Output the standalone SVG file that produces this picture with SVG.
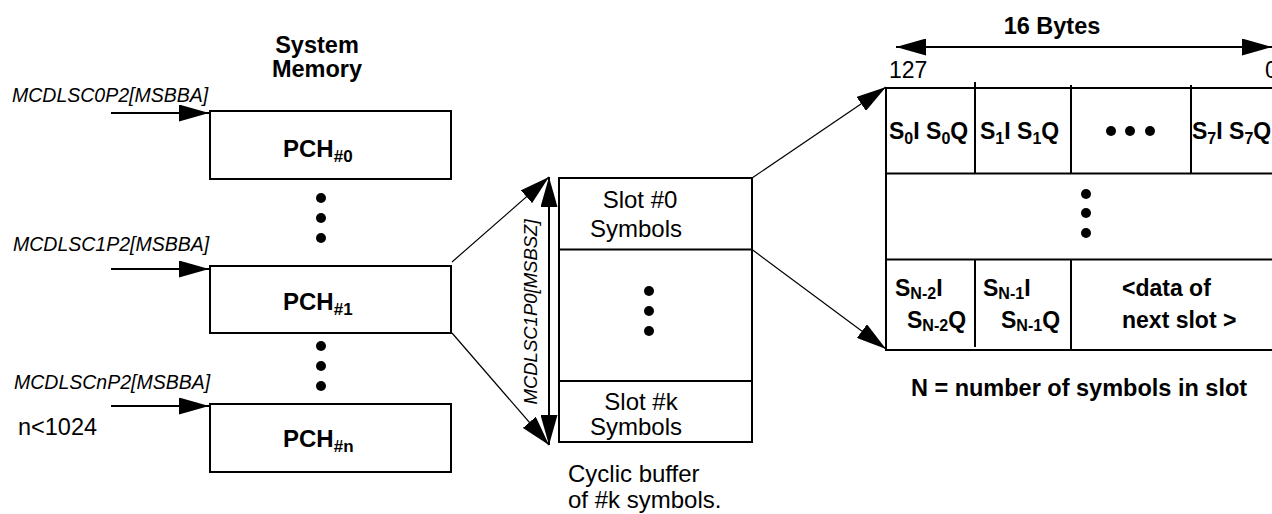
<svg xmlns="http://www.w3.org/2000/svg" width="1272" height="514" viewBox="0 0 1272 514">
<style>
.box{fill:#fff;stroke:#000;stroke-width:2}
.ln{stroke:#000;stroke-width:2;fill:none}
.thin{stroke:#000;stroke-width:1.2;fill:none}
.t{font-family:"Liberation Sans",Arial,Helvetica,sans-serif;fill:#000}
.b{font-weight:bold}
.i{font-style:italic}
.dot{fill:#000}
</style>
<defs>
<marker id="ah" viewBox="0 0 30 17" refX="30" refY="8.5" markerWidth="30" markerHeight="17" markerUnits="userSpaceOnUse" orient="auto-start-reverse">
<path d="M0,0 L30,8.5 L0,17 z" fill="#000"/>
</marker>
</defs>
<rect width="1272" height="514" fill="#fff"/>

<g id="memory-title">
<text class="t b" x="317" y="53" font-size="23.5" text-anchor="middle">System</text>
<text class="t b" x="317" y="77" font-size="23.5" text-anchor="middle">Memory</text>
</g>

<g id="address-labels">
<text class="t i" x="12" y="102" font-size="19.5">MCDLSC0P2[MSBBA]</text>
<text class="t i" x="13" y="251" font-size="19.5">MCDLSC1P2[MSBBA]</text>
<text class="t i" x="14" y="389" font-size="19.5">MCDLSCnP2[MSBBA]</text>
<text class="t" x="18" y="435" font-size="23.5">n&lt;1024</text>
</g>

<g id="pch0">
<rect class="box" x="210" y="111" width="241" height="68"/>
<text class="t b" x="283" y="157" font-size="24">PCH<tspan font-size="17" dy="5">#0</tspan></text>
</g>
<g id="pch1">
<rect class="box" x="210" y="266" width="241" height="67"/>
<text class="t b" x="283" y="310" font-size="24">PCH<tspan font-size="17" dy="5">#1</tspan></text>
</g>
<g id="pchn">
<rect class="box" x="210" y="404" width="241" height="68"/>
<text class="t b" x="283" y="447" font-size="24">PCH<tspan font-size="17" dy="5">#n</tspan></text>
</g>

<g id="memory-dots">
<circle class="dot" cx="321" cy="198" r="5"/>
<circle class="dot" cx="321" cy="218" r="5"/>
<circle class="dot" cx="321" cy="238" r="5"/>
<circle class="dot" cx="321" cy="346" r="5"/>
<circle class="dot" cx="321" cy="366" r="5"/>
<circle class="dot" cx="321" cy="386" r="5"/>
</g>

<g id="cyclic-buffer">
<rect class="box" x="559" y="178" width="193" height="264"/>
<line class="ln" x1="559" y1="249.5" x2="752" y2="249.5"/>
<line class="ln" x1="559" y1="381" x2="752" y2="381"/>
<text class="t" x="640" y="208" font-size="24" text-anchor="middle">Slot #0</text>
<text class="t" x="636" y="237" font-size="24" text-anchor="middle">Symbols</text>
<circle class="dot" cx="649" cy="291" r="5"/>
<circle class="dot" cx="649" cy="311" r="5"/>
<circle class="dot" cx="649" cy="331" r="5"/>
<text class="t" x="641" y="410" font-size="24" text-anchor="middle">Slot #k</text>
<text class="t" x="636" y="435" font-size="24" text-anchor="middle">Symbols</text>
<text class="t" x="568" y="482" font-size="24">Cyclic buffer</text>
<text class="t" x="568" y="508" font-size="24">of #k symbols.</text>
<text class="t i" font-size="18.5" text-anchor="middle" transform="translate(537,312) rotate(-90)">MCDLSC1P0[MSBSZ]</text>
</g>

<g id="slot-table">
<rect class="box" x="886" y="88" width="420" height="262"/>
<line class="ln" x1="886" y1="173.5" x2="1306" y2="173.5"/>
<line class="ln" x1="886" y1="259.5" x2="1306" y2="259.5"/>
<line class="ln" x1="975" y1="82" x2="975" y2="173.5"/>
<line class="ln" x1="1071" y1="85" x2="1071" y2="173.5"/>
<line class="ln" x1="1191" y1="85" x2="1191" y2="173.5"/>
<line class="ln" x1="975" y1="259.5" x2="975" y2="347"/>
<line class="ln" x1="1071" y1="259.5" x2="1071" y2="350"/>
<text class="t" x="889" y="78" font-size="23">127</text>
<text class="t" x="1265" y="78" font-size="23">0</text>
<text class="t b" x="889" y="139" font-size="23">S<tspan font-size="16" dy="5">0</tspan><tspan dy="-5">I S</tspan><tspan font-size="16" dy="5">0</tspan><tspan dy="-5">Q</tspan></text>
<text class="t b" x="980" y="139" font-size="23">S<tspan font-size="16" dy="5">1</tspan><tspan dy="-5">I S</tspan><tspan font-size="16" dy="5">1</tspan><tspan dy="-5">Q</tspan></text>
<text class="t b" x="1192" y="139" font-size="23">S<tspan font-size="16" dy="5">7</tspan><tspan dy="-5">I S</tspan><tspan font-size="16" dy="5">7</tspan><tspan dy="-5">Q</tspan></text>
<circle class="dot" cx="1111" cy="131" r="5"/>
<circle class="dot" cx="1130" cy="131" r="5"/>
<circle class="dot" cx="1150" cy="131" r="5"/>
<circle class="dot" cx="1086" cy="194" r="5"/>
<circle class="dot" cx="1086" cy="213" r="5"/>
<circle class="dot" cx="1086" cy="233" r="5"/>
<text class="t b" x="895" y="296" font-size="23">S<tspan font-size="16" dy="3">N-2</tspan><tspan dy="-3">I</tspan></text>
<text class="t b" x="907" y="328" font-size="23">S<tspan font-size="16" dy="3">N-2</tspan><tspan dy="-3">Q</tspan></text>
<text class="t b" x="983" y="296" font-size="23">S<tspan font-size="16" dy="3">N-1</tspan><tspan dy="-3">I</tspan></text>
<text class="t b" x="1001" y="328" font-size="23">S<tspan font-size="16" dy="3">N-1</tspan><tspan dy="-3">Q</tspan></text>
<text class="t b" x="1122" y="296" font-size="23">&lt;data of</text>
<text class="t b" x="1122" y="328" font-size="23">next slot &gt;</text>
<text class="t b" x="1052" y="34" font-size="23.5" text-anchor="middle">16 Bytes</text>
<text class="t b" x="1079" y="396" font-size="23.5" text-anchor="middle">N = number of symbols in slot</text>
</g>

<g id="connectors">
<line class="ln" x1="111" y1="113" x2="209" y2="113" marker-end="url(#ah)"/>
<line class="ln" x1="111" y1="269" x2="209" y2="269" marker-end="url(#ah)"/>
<line class="ln" x1="111" y1="406" x2="209" y2="406" marker-end="url(#ah)"/>
<line class="ln" x1="549" y1="177" x2="549" y2="445" marker-start="url(#ah)" marker-end="url(#ah)"/>
<line class="thin" x1="452" y1="262" x2="549" y2="177" marker-end="url(#ah)"/>
<line class="thin" x1="452" y1="333" x2="549" y2="445" marker-end="url(#ah)"/>
<line class="thin" x1="752" y1="178" x2="886" y2="87" marker-end="url(#ah)"/>
<line class="thin" x1="752" y1="249.5" x2="886" y2="349" marker-end="url(#ah)"/>
<line class="ln" x1="896" y1="47" x2="1272" y2="47" marker-start="url(#ah)" marker-end="url(#ah)"/>
</g>
</svg>
